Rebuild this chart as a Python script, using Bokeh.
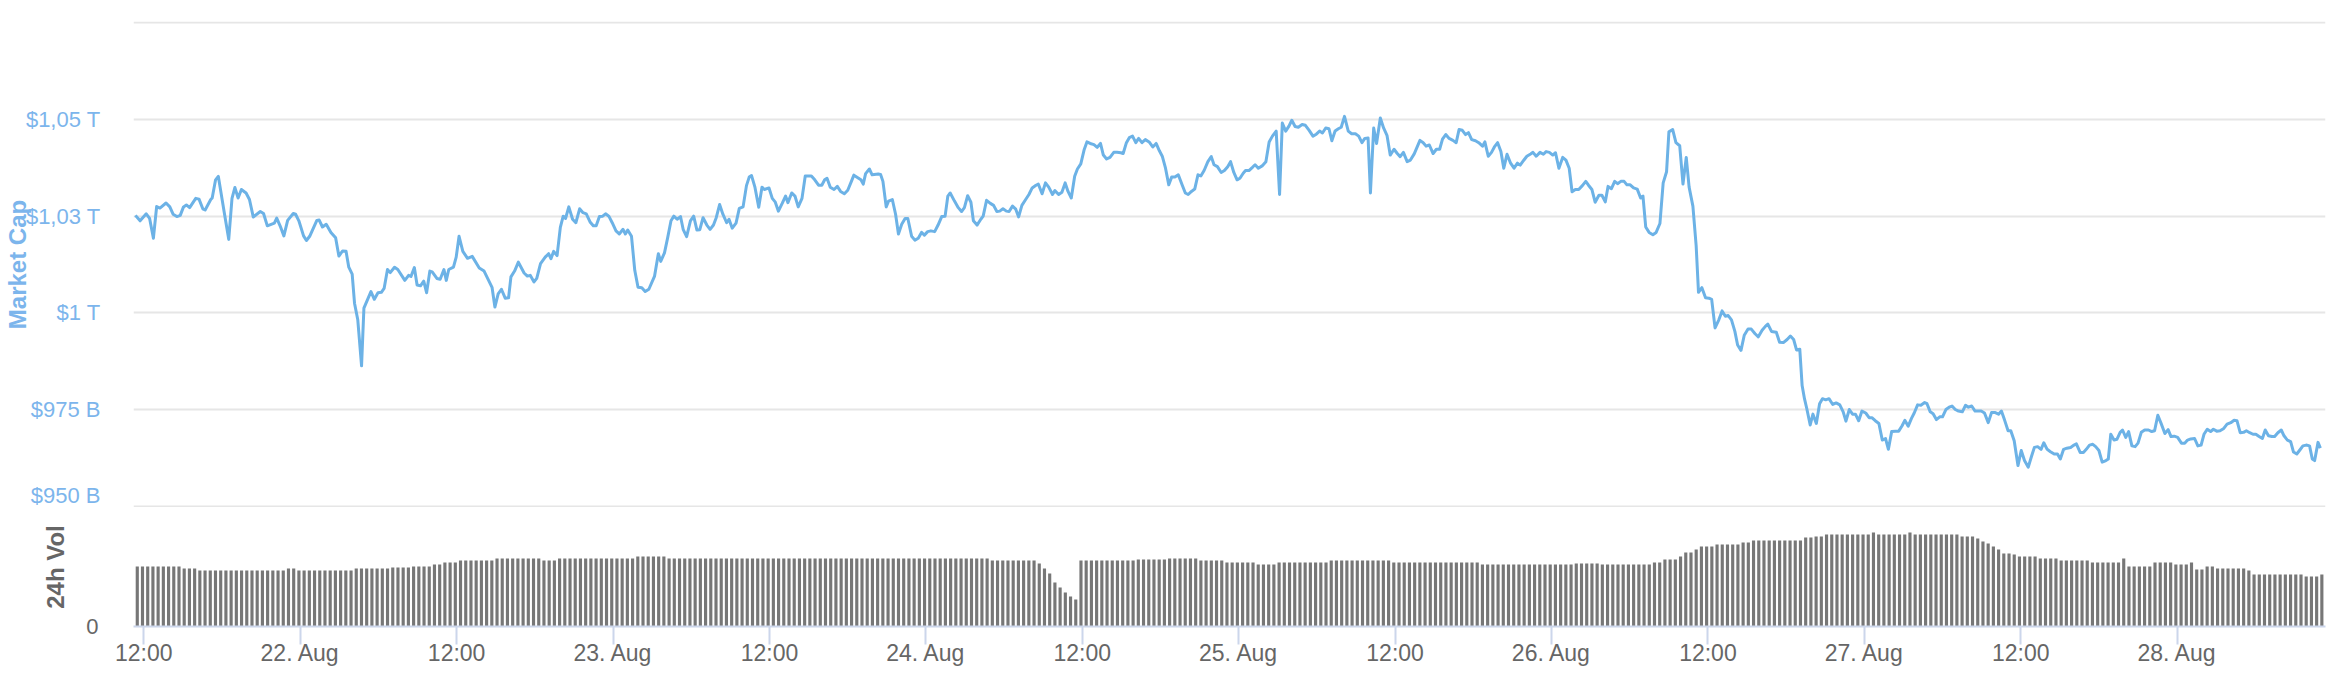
from datetime import datetime, timedelta
from bokeh.plotting import figure
from bokeh.layouts import column
from bokeh.models import Range1d, FixedTicker
from bokeh.embed import file_html
from bokeh.resources import INLINE

# ---------------- data ----------------
line_start = datetime(2022, 8, 21, 11, 52)
mc_hours = [
    -0.51, -0.15, 0.32, 0.58, 0.87, 1.12, 1.37, 1.84, 2.13, 2.38,
    2.67, 2.93, 3.18, 3.40, 3.65, 4.12, 4.37, 4.66, 4.84, 5.27,
    5.38, 5.64, 5.85, 6.29, 6.65, 6.90, 7.12, 7.37, 7.62, 7.98,
    8.24, 8.53, 9.07, 9.32, 9.61, 10.15, 10.33, 10.59, 10.88, 11.17,
    11.60, 11.78, 12.03, 12.39, 12.61, 12.86, 13.41, 13.59, 13.84, 14.13,
    14.49, 14.85, 15.10, 15.39, 15.65, 15.86, 16.12, 16.30, 16.55, 16.84,
    17.02, 17.56, 17.82, 18.10, 18.36, 18.57, 18.83, 19.04, 19.37, 19.62,
    20.16, 20.45, 20.63, 20.89, 21.10, 21.36, 21.61, 21.83, 22.08, 22.26,
    22.62, 22.87, 23.16, 23.34, 23.53, 23.89, 24.10, 24.32, 24.61, 24.97,
    25.33, 25.87, 26.24, 26.85, 27.07, 27.32, 27.57, 27.86, 28.12, 28.30,
    28.58, 28.87, 29.31, 29.56, 29.78, 30.07, 30.28, 30.57, 30.93, 31.19,
    31.37, 31.58, 31.84, 32.09, 32.31, 32.49, 32.74, 33.03, 33.28, 33.57,
    33.83, 34.08, 34.37, 34.62, 34.84, 35.09, 35.34, 35.56, 35.81, 36.07,
    36.36, 36.61, 36.90, 37.08, 37.26, 37.55, 37.80, 38.05, 38.34, 38.60,
    38.88, 39.32, 39.61, 39.79, 40.08, 40.33, 40.58, 40.80, 41.05, 41.31,
    41.52, 41.78, 42.07, 42.32, 42.57, 42.79, 43.04, 43.33, 43.58, 43.84,
    44.05, 44.31, 44.56, 44.85, 45.03, 45.28, 45.57, 45.82, 46.11, 46.37,
    46.58, 46.76, 47.02, 47.31, 47.56, 47.74, 48.10, 48.35, 48.57, 48.82,
    49.11, 49.37, 49.55, 49.84, 50.09, 50.34, 50.63, 50.88, 51.35, 51.61,
    51.90, 52.15, 52.37, 52.55, 52.80, 53.09, 53.34, 53.59, 53.88, 54.14,
    54.42, 54.61, 55.15, 55.33, 55.51, 55.80,
    56.01, 56.48, 56.66, 56.84, 57.09, 57.27, 57.56, 57.81, 58.03, 58.28,
    58.54, 58.75, 59.04, 59.29, 59.55, 59.80, 60.02, 60.27, 60.52, 60.81,
    61.07, 61.35, 61.61, 61.82, 62.00, 62.33, 62.62, 62.87, 63.09, 63.34,
    63.59, 63.78, 64.06, 64.35, 64.53, 64.79, 65.08, 65.33, 65.58, 65.80,
    66.05, 66.31, 66.52, 66.78, 67.03, 67.25, 67.50, 67.79, 68.04, 68.29,
    68.58, 68.76, 69.05, 69.31, 69.56, 69.85, 70.03, 70.32, 70.57, 70.82,
    71.04, 71.29, 71.55, 71.76, 72.02, 72.27, 72.49, 72.74, 73.03, 73.28,
    73.53, 73.75, 74.00, 74.26, 74.55, 74.80, 75.09, 75.27, 75.52, 75.74,
    75.99, 76.24, 76.46, 76.71, 76.97, 77.26, 77.54, 77.80, 78.05, 78.27,
    78.52, 78.77, 78.99, 79.24, 79.50, 79.79, 80.04, 80.26, 80.51, 80.76,
    81.01, 81.23, 81.48, 81.77, 82.03, 82.24, 82.50, 82.79, 83.04, 83.29,
    83.51, 83.76, 84.01, 84.23, 84.48, 84.66, 84.92, 85.21, 85.39, 85.64,
    85.93, 86.22, 86.47, 86.72, 87.01, 87.27, 87.48, 87.74, 87.99, 88.21,
    88.46, 88.71, 89.00, 89.25, 89.54, 89.83, 90.09, 90.34, 90.56, 90.81,
    91.06, 91.28, 91.53, 91.78, 92.00, 92.25, 92.54, 92.80, 93.09, 93.34,
    93.59, 93.81, 94.06, 94.24, 94.49, 94.71, 95.00, 95.25, 95.51, 95.76,
    96.05, 96.30, 96.52, 96.77, 97.06, 97.31, 97.60, 98.04, 98.29, 98.51,
    98.76, 99.05, 99.30, 99.55, 99.77, 100.02, 100.28, 100.57, 100.82, 101.04,
    101.29, 101.54, 101.76, 102.01, 102.30, 102.55, 102.84, 103.02, 103.28, 103.53,
    103.75, 104.00, 104.25, 104.47, 104.72, 104.98, 105.26, 105.52, 105.73, 105.99,
    106.24, 106.53, 106.71, 106.96, 107.25, 107.51, 107.72, 107.97, 108.23, 108.44,
    108.70, 108.99, 109.24, 109.49, 109.71, 109.96, 110.22, 110.50, 110.76, 110.97,
    111.23, 111.48, 111.77,
    112.00, 112.26, 112.47, 112.73, 112.98, 113.20, 113.45, 113.70, 113.92, 114.17,
    114.43, 114.71, 114.97, 115.15, 115.36, 115.62, 115.91, 116.16, 116.45, 116.70,
    116.96, 117.14, 117.43, 117.68, 117.97, 118.22, 118.47, 118.69, 118.98, 119.23,
    119.41, 119.67, 119.95, 120.21, 120.42, 120.68, 120.97, 121.22, 121.47, 121.69,
    121.94, 122.20, 122.41, 122.67, 122.92, 123.21, 123.46, 123.75, 124.00, 124.29,
    124.54, 124.73, 125.01, 125.38, 125.63, 125.92, 126.21, 126.46, 126.71, 126.93,
    127.18, 127.36, 127.54, 127.72, 127.98, 128.19, 128.45, 128.70, 128.92, 129.17,
    129.42, 129.71, 129.97, 130.25, 130.51, 130.72, 130.98, 131.23, 131.45, 131.70,
    131.95, 132.24, 132.50, 132.71, 132.97, 133.25, 133.51, 133.76, 133.98, 134.23,
    134.52, 134.77, 135.03, 135.24, 135.50, 135.75, 135.96, 136.22, 136.47, 136.76,
    136.94, 137.19, 137.41, 137.66, 137.92, 138.13, 138.39, 138.64, 138.86, 139.11,
    139.36, 139.65, 139.90, 140.12, 140.37, 140.63, 140.84, 141.10, 141.35, 141.64,
    141.89, 142.18, 142.43, 142.65, 142.90, 143.16, 143.37, 143.63, 143.92, 144.17,
    144.42, 144.71, 144.96, 145.18, 145.43, 145.69, 145.90, 146.16, 146.41, 146.70,
    146.95, 147.17, 147.42, 147.67, 147.96, 148.22, 148.40, 148.69, 148.94, 149.16,
    149.41, 149.66, 149.88, 150.13, 150.38, 150.67, 150.85, 151.04, 151.29, 151.51,
    151.76, 151.94, 152.19, 152.41, 152.66, 152.91, 153.13, 153.38, 153.64, 153.93,
    154.18, 154.40, 154.65, 154.90, 155.19, 155.44, 155.66, 155.91, 156.17, 156.46,
    156.71, 156.93, 157.18, 157.47, 157.72, 157.97, 158.19, 158.44, 158.70, 158.91,
    159.17, 159.42, 159.71, 159.96, 160.25, 160.50, 160.72, 160.97, 161.23, 161.44,
    161.70, 161.95, 162.17, 162.42, 162.67, 162.89, 163.14, 163.40, 163.61, 163.86,
    164.12, 164.33, 164.59, 164.84, 165.06, 165.31, 165.56, 165.78, 166.03, 166.29,
    166.50, 166.68, 166.94, 167.12,
]
mc_values = [
    1025.2, 1023.8, 1025.6, 1024.4, 1019.3, 1027.5, 1027.1, 1028.4, 1027.4, 1025.5,
    1024.9, 1025.2, 1027.4, 1027.9, 1027.2, 1029.6, 1029.4, 1026.9, 1026.6, 1029.3,
    1029.7, 1034.4, 1035.3, 1026.3, 1019.0, 1029.6, 1032.4, 1029.7, 1031.9, 1031.0,
    1029.3, 1024.8, 1026.2, 1025.7, 1022.5, 1023.2, 1024.5, 1022.5, 1019.9, 1023.9,
    1025.7, 1025.5, 1023.8, 1019.9, 1018.7, 1019.8, 1023.9, 1024.0, 1022.2, 1022.9,
    1020.8, 1019.4, 1014.7, 1016.0, 1015.9, 1011.8, 1010.0, 1002.5, 998.2, 986.3,
    1001.2, 1005.5, 1003.5, 1005.2, 1005.3, 1006.3, 1011.2, 1010.4, 1011.8, 1011.2,
    1008.4, 1009.7, 1009.4, 1011.7, 1007.2, 1007.0, 1008.2, 1005.2, 1010.8, 1010.6,
    1008.9, 1008.7, 1011.2, 1008.4, 1011.2, 1011.8, 1014.4, 1019.8, 1015.9, 1014.1,
    1014.6, 1011.6, 1010.8, 1006.6, 1001.5, 1004.9, 1006.1, 1003.8, 1003.9, 1009.3,
    1010.8, 1013.1, 1010.3, 1009.5, 1009.7, 1008.0, 1008.9, 1012.7, 1014.4, 1015.3,
    1014.0, 1015.9, 1014.8, 1022.1, 1025.0, 1024.4, 1027.4, 1024.2, 1023.3, 1026.9,
    1025.9, 1025.6, 1023.5, 1022.5, 1022.5, 1024.9, 1025.0, 1025.6, 1025.0, 1023.3,
    1021.2, 1020.4, 1021.6, 1020.4, 1021.4, 1019.8, 1011.0, 1006.6, 1006.5, 1005.5,
    1006.1, 1009.5, 1015.3, 1013.3, 1015.5, 1019.5, 1023.8, 1025.0, 1024.2, 1024.9,
    1021.5, 1019.7, 1023.8, 1025.0, 1021.4, 1021.5, 1024.6, 1022.7, 1021.6, 1022.7,
    1024.6, 1028.0, 1025.5, 1023.3, 1024.2, 1021.9, 1023.2, 1027.0, 1027.4, 1032.9,
    1035.1, 1035.5, 1032.5, 1027.3, 1032.5, 1031.9, 1032.3, 1029.6, 1028.7, 1026.3,
    1028.3, 1030.2, 1028.5, 1031.0, 1030.2, 1027.4, 1029.6, 1035.4, 1035.4, 1034.4,
    1033.0, 1033.0, 1034.4, 1034.8, 1032.5, 1031.9, 1032.7, 1031.4, 1030.8, 1031.7,
    1034.0, 1035.6, 1034.4, 1033.3, 1036.0, 1037.2,
    1035.7, 1035.9, 1035.8, 1034.0, 1027.4, 1028.9, 1029.3, 1025.5, 1020.4, 1022.9,
    1024.4, 1024.4, 1019.8, 1018.8, 1019.3, 1020.8, 1020.1, 1021.0, 1021.2, 1021.0,
    1022.7, 1024.9, 1025.0, 1030.2, 1031.0, 1028.9, 1027.2, 1026.2, 1027.2, 1030.3,
    1028.6, 1023.8, 1022.7, 1024.2, 1025.0, 1029.1, 1028.3, 1027.8, 1026.2, 1026.3,
    1026.9, 1026.3, 1026.2, 1027.6, 1026.8, 1024.8, 1027.8, 1029.3, 1030.6, 1032.3,
    1033.0, 1033.3, 1030.8, 1033.6, 1032.5, 1030.6, 1031.6, 1030.6, 1031.2, 1033.6,
    1031.4, 1029.7, 1035.3, 1037.2, 1038.5, 1042.1, 1044.2, 1043.8, 1043.5, 1042.8,
    1043.8, 1040.8, 1039.8, 1040.2, 1041.5, 1041.5, 1041.4, 1041.2, 1044.0, 1045.3,
    1045.7, 1044.0, 1045.1, 1044.0, 1044.8, 1044.2, 1042.9, 1043.8, 1041.9, 1040.5,
    1037.4, 1033.1, 1035.1, 1035.1, 1035.7, 1033.1, 1031.0, 1030.6, 1031.4, 1032.0,
    1035.7, 1035.4, 1036.8, 1039.1, 1040.4, 1038.3, 1037.8, 1036.3, 1036.8, 1037.8,
    1039.1, 1036.3, 1034.4, 1034.8, 1036.1, 1036.8, 1036.8, 1037.7, 1038.3, 1037.4,
    1038.0, 1039.1, 1044.2, 1045.7, 1047.0, 1030.6, 1049.1, 1047.0, 1048.3, 1049.8,
    1048.2, 1048.0, 1048.7, 1048.5, 1047.2, 1045.7, 1046.2, 1047.0, 1046.5, 1047.8,
    1047.6, 1044.5, 1047.0, 1047.6, 1048.0, 1050.8, 1047.0, 1046.3, 1046.3, 1045.7,
    1044.0, 1045.1, 1045.2, 1031.0, 1047.8, 1043.8, 1050.4, 1047.8, 1045.9, 1040.8,
    1042.3, 1041.2, 1040.4, 1041.5, 1039.1, 1039.5, 1041.1, 1044.6, 1044.0, 1043.1,
    1043.4, 1041.2, 1042.3, 1042.3, 1044.9, 1046.1, 1045.1, 1044.6, 1044.0, 1047.4,
    1047.2, 1046.1, 1046.6, 1044.8, 1044.5, 1044.0, 1043.1, 1044.2, 1040.5, 1041.5,
    1042.9, 1044.0, 1041.7, 1037.4, 1041.0, 1038.8, 1037.4, 1038.7, 1038.2, 1039.4,
    1040.5, 1041.1, 1041.5, 1040.5, 1041.5, 1041.0, 1041.7, 1041.5, 1040.8, 1041.4,
    1037.4, 1040.2, 1039.5, 1037.4, 1031.3, 1031.9, 1031.9, 1032.9, 1034.0, 1033.0,
    1031.9, 1028.6, 1030.4,
    1030.4, 1028.7, 1032.7, 1032.1, 1034.0, 1033.4, 1034.0, 1034.0, 1033.1, 1033.1,
    1032.3, 1032.0, 1029.7, 1030.2, 1022.2, 1020.8, 1020.2, 1020.8, 1023.1, 1033.6,
    1036.5, 1046.8, 1047.4, 1044.0, 1043.2, 1033.3, 1040.2, 1032.5, 1027.6, 1017.4,
    1005.3, 1006.5, 1003.9, 1003.8, 1003.5, 996.1, 998.2, 1000.5, 999.1, 999.3,
    998.2, 995.2, 991.7, 990.3, 994.2, 995.8, 995.8, 994.6, 993.8, 995.5,
    996.5, 997.1, 995.2, 995.0, 992.4, 992.3, 993.1, 994.0, 993.1, 990.4,
    990.6, 981.2, 977.8, 975.2, 971.0, 973.8, 971.4, 976.5, 977.8, 977.5,
    977.8, 976.3, 976.7, 976.2, 974.4, 972.0, 975.0, 973.8, 973.8, 972.1,
    974.6, 974.1, 972.9, 972.9, 972.1, 971.4, 967.1, 967.5, 964.7, 969.3,
    969.4, 969.4, 970.8, 972.2, 970.7, 972.7, 974.1, 976.2, 976.1, 976.8,
    976.5, 974.4, 973.9, 972.4, 973.1, 973.1, 975.0, 975.6, 975.9, 975.0,
    974.6, 974.4, 976.1, 975.6, 975.9, 974.6, 974.6, 974.6, 974.1, 971.6,
    974.2, 974.2, 973.8, 974.6, 972.2, 969.5, 969.5, 966.9, 960.5, 964.4,
    961.8, 960.1, 962.9, 965.2, 965.4, 964.7, 966.4, 964.7, 964.1, 963.5,
    963.5, 962.2, 964.7, 965.0, 965.2, 965.8, 966.1, 963.9, 963.9, 964.7,
    965.8, 966.0, 965.4, 964.4, 961.4, 961.8, 962.2, 968.6, 967.1, 967.3,
    969.1, 969.7, 967.8, 969.3, 965.6, 965.4, 966.3, 969.1, 969.7, 969.7,
    969.3, 969.5, 973.5, 971.4, 968.8, 969.8, 968.0, 968.1, 967.8, 966.3,
    966.3, 967.1, 967.4, 967.5, 965.6, 965.8, 968.6, 969.9, 969.3, 969.9,
    969.4, 969.5, 970.1, 971.2, 971.6, 972.2, 972.1, 969.0, 969.1, 969.5,
    969.0, 968.6, 968.6, 968.0, 967.5, 969.7, 968.2, 968.0, 968.0, 969.0,
    969.7, 968.2, 967.1, 966.7, 964.0, 963.5, 964.6, 965.6, 965.8, 965.6,
    962.2, 961.8, 966.5, 965.0,
]

# 24h volume (billion USD), one bar every 24 minutes, as (bar count, level) runs
vol_start = datetime(2022, 8, 21, 11, 30)
vol_step_minutes = 24
vol_runs = [
    (9, 60), (3, 58), (17, 56), (2, 58), (11, 56), (7, 58), (4, 59), (4, 60),
    (2, 62), (3, 64), (7, 66), (9, 68), (3, 66), (15, 68), (6, 70), (62, 68),
    (9, 66), (1, 63), (1, 58), (1, 53), (1, 44), (1, 39), (1, 34), (1, 30), (1, 27),
    (11, 66), (6, 67), (6, 68), (5, 66), (6, 64), (4, 62), (10, 64), (12, 66),
    (17, 64), (18, 62), (5, 63), (10, 62), (2, 64), (3, 67), (1, 70), (2, 74),
    (1, 77), (3, 80), (5, 82), (2, 84), (10, 86), (2, 89), (2, 90), (9, 92),
    (1, 94), (6, 92), (1, 94), (9, 92), (3, 90), (1, 88), (1, 85), (1, 83),
    (1, 80), (1, 77), (2, 73), (1, 72), (4, 70), (4, 68), (6, 66), (6, 64),
    (1, 68), (5, 60), (4, 64), (3, 62), (1, 64), (2, 57), (2, 60), (6, 58),
    (1, 56), (10, 52), (3, 50), (1, 52),
]

x_tick_times = [datetime(2022, 8, 21, 12) + timedelta(hours=12 * k) for k in range(14)]
x_tick_labels = ["12:00", "22. Aug", "12:00", "23. Aug", "12:00", "24. Aug", "12:00",
                 "25. Aug", "12:00", "26. Aug", "12:00", "27. Aug", "12:00", "28. Aug"]
y_ticks = [950, 975, 1000, 1025, 1050, 1075]
y_tick_labels = ["$950 B", "$975 B", "$1 T", "$1,03 T", "$1,05 T", ""]
vol_ticks = [0]
vol_tick_labels = ["0"]

# ---------------- build ----------------
EPOCH = datetime(1970, 1, 1)
def ms(d):
    return int(round((d - EPOCH).total_seconds() * 1000))

mc_times = [line_start + timedelta(hours=h) for h in mc_hours]
vol_values = []
for n, v in vol_runs:
    vol_values += [v] * n
vol_times = [vol_start + timedelta(minutes=vol_step_minutes * i) for i in range(len(vol_values))]

x_range = Range1d(datetime(2022, 8, 21, 11, 12, 36), datetime(2022, 8, 28, 11, 22, 48))

FONT = "Liberation Sans"
BLUE = "#6cb2e6"
LABEL_BLUE = "#7cb5ec"
GREY = "#666666"

# ---- market cap pane ----
p1 = figure(width=2342, height=507, x_axis_type="datetime", x_axis_location=None,
            output_backend="svg", toolbar_location=None,
            x_range=x_range, y_range=Range1d(949.66, 1075.34),
            min_border_left=132, min_border_right=17, min_border_top=21, min_border_bottom=0)
p1.outline_line_color = None
p1.line(x=mc_times, y=mc_values, line_width=3, line_color=BLUE, line_join="round")

ya = p1.yaxis[0]
ya.ticker = FixedTicker(ticks=y_ticks)
ya.major_label_overrides = {t: lab for t, lab in zip(y_ticks, y_tick_labels)}
ya.axis_line_color = None
ya.major_tick_line_color = None
ya.major_tick_out = 0
ya.major_tick_in = 0
ya.minor_tick_line_color = None
ya.major_label_standoff = 33
ya.major_label_text_font = FONT
ya.major_label_text_font_size = "22px"
ya.major_label_text_color = LABEL_BLUE
ya.axis_label = "Market Cap"
ya.axis_label_standoff = -8
ya.axis_label_text_font = FONT
ya.axis_label_text_font_size = "24px"
ya.axis_label_text_font_style = "bold"
ya.axis_label_text_color = LABEL_BLUE

p1.xgrid.grid_line_color = None
p1.ygrid.grid_line_color = "#e6e6e6"
p1.ygrid.grid_line_width = 2

# ---- volume pane ----
p2 = figure(width=2342, height=171, x_axis_type="datetime",
            output_backend="svg", toolbar_location=None,
            x_range=x_range, y_range=Range1d(0, 119),
            min_border_left=132, min_border_right=17, min_border_top=0, min_border_bottom=52)
p2.outline_line_color = None
p2.vbar(x=vol_times, top=vol_values, bottom=0, width=14.5 * 60 * 1000,
        fill_color="#777777", line_color=None)

xa = p2.xaxis[0]
xa.ticker = FixedTicker(ticks=[ms(t) for t in x_tick_times])
xa.major_label_overrides = {ms(t): lab for t, lab in zip(x_tick_times, x_tick_labels)}
xa.axis_line_color = "#ccd6eb"
xa.axis_line_width = 2
xa.major_tick_line_color = "#ccd6eb"
xa.major_tick_line_width = 2
xa.major_tick_out = 18
xa.major_tick_in = 0
xa.minor_tick_line_color = None
xa.major_label_standoff = -5
xa.major_label_text_font = FONT
xa.major_label_text_font_size = "23px"
xa.major_label_text_color = GREY

va = p2.yaxis[0]
va.ticker = FixedTicker(ticks=vol_ticks)
va.major_label_overrides = {t: lab for t, lab in zip(vol_ticks, vol_tick_labels)}
va.axis_line_color = None
va.major_tick_line_color = None
va.major_tick_out = 0
va.major_tick_in = 0
va.minor_tick_line_color = None
va.major_label_standoff = 35
va.major_label_text_font = FONT
va.major_label_text_font_size = "22px"
va.major_label_text_color = GREY
va.axis_label = "24h Vol"
va.axis_label_standoff = 14
va.axis_label_text_font = FONT
va.axis_label_text_font_size = "24px"
va.axis_label_text_font_style = "bold"
va.axis_label_text_color = GREY

p2.xgrid.grid_line_color = None
p2.ygrid.grid_line_color = None

layout = column(p1, p2, spacing=0)
open("out.html", "w").write(file_html(layout, INLINE))
